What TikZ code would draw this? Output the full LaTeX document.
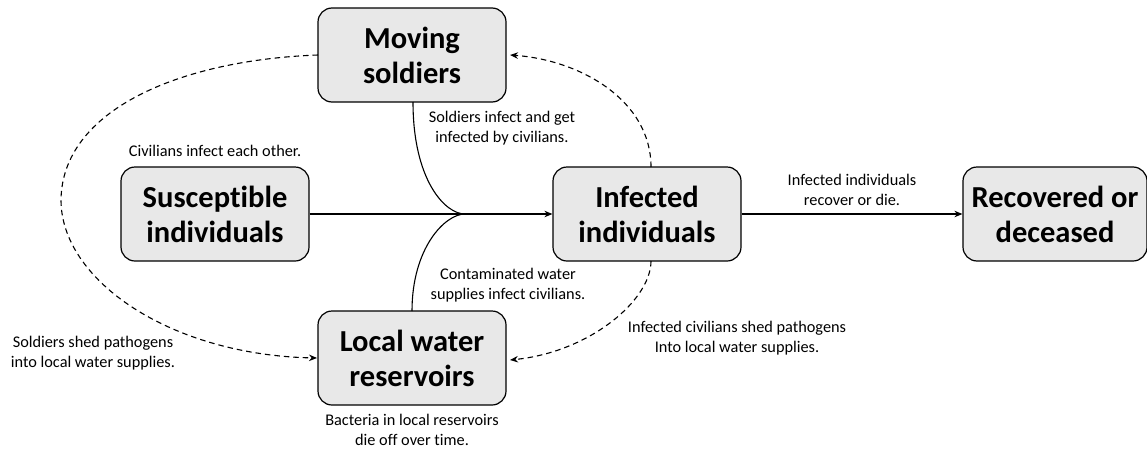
\documentclass[tikz,border=0pt]{standalone}
\usepackage{fontspec}
\setmainfont{Carlito}[Ligatures=NoCommon]
\usetikzlibrary{arrows.meta}
\begin{document}
\begin{tikzpicture}[x=1pt,y=-1pt,
  box/.style={draw, line width=1.2pt, fill=black!9, rounded corners=14pt,
    minimum width=188pt, minimum height=94pt, inner sep=2pt, align=center,
    font=\fontsize{30.5}{35}\selectfont\bfseries},
  lbl/.style={align=center, font=\fontsize{16.3}{20}\selectfont, inner sep=0pt},
  conn/.style={line width=1.1pt},
  arr/.style={-{Stealth[length=8pt,width=6.5pt]}},
  dashline/.style={dash pattern=on 5.5pt off 4pt}]
\useasboundingbox (0,0) rectangle (1147,450);
\node[box] (ms) at (412,55) {Moving\\soldiers};
\node[box] (si) at (215,214) {Susceptible\\individuals};
\node[box] (ii) at (647,214) {Infected\\individuals};
\node[box] (lw) at (412,358) {Local water\\reservoirs};
\node[box, minimum width=184pt] (rd) at (1055,214) {Recovered or\\deceased};
\coordinate (m) at (465,214);
\coordinate (msb) at (413,102);
\coordinate (lwt) at (412,311);
\coordinate (iit) at (651,167);
\coordinate (iib) at (651,261);
\coordinate (msr) at (510,55);
\coordinate (lwr) at (510,360);
\coordinate (lwl) at (317,358);
\coordinate (msl) at (318,55);
\coordinate (lp) at (61,200);
% solid
\draw[conn] (msb) .. controls (413,180) and (445,214) .. (m);
\draw[conn] (lwt) .. controls (412,248) and (445,214) .. (m);
\draw[conn,arr] (si.east) -- (ii.west);
\draw[conn,arr] (ii.east) -- (rd.west);
% dashed
\draw[conn,dashline,arr] (msl) .. controls (180,60) and (62,110) .. (lp)
  .. controls (61,280) and (170,355) .. (lwl);
\draw[conn,dashline,arr] (iit) .. controls (651,100) and (580,60) .. (msr);
\draw[conn,dashline,arr] (iib) .. controls (651,300) and (590,352) .. (lwr);
% labels
\node[lbl] (l1) at (502,128) {Soldiers infect and get\\infected by civilians.};
\node[lbl] (l2) at (215,151) {Civilians infect each other.};
\node[lbl] (l3) at (852,190) {Infected individuals\\recover or die.};
\node[lbl] (l4) at (508,285) {Contaminated water\\supplies infect civilians.};
\node[lbl] (l5) at (737,338) {Infected civilians shed pathogens\\Into local water supplies.};
\node[lbl] (l6) at (93,353) {Soldiers shed pathogens\\into local water supplies.};
\node[lbl] (l7) at (412,430) {Bacteria in local reservoirs\\die off over time.};
\end{tikzpicture}
\end{document}
